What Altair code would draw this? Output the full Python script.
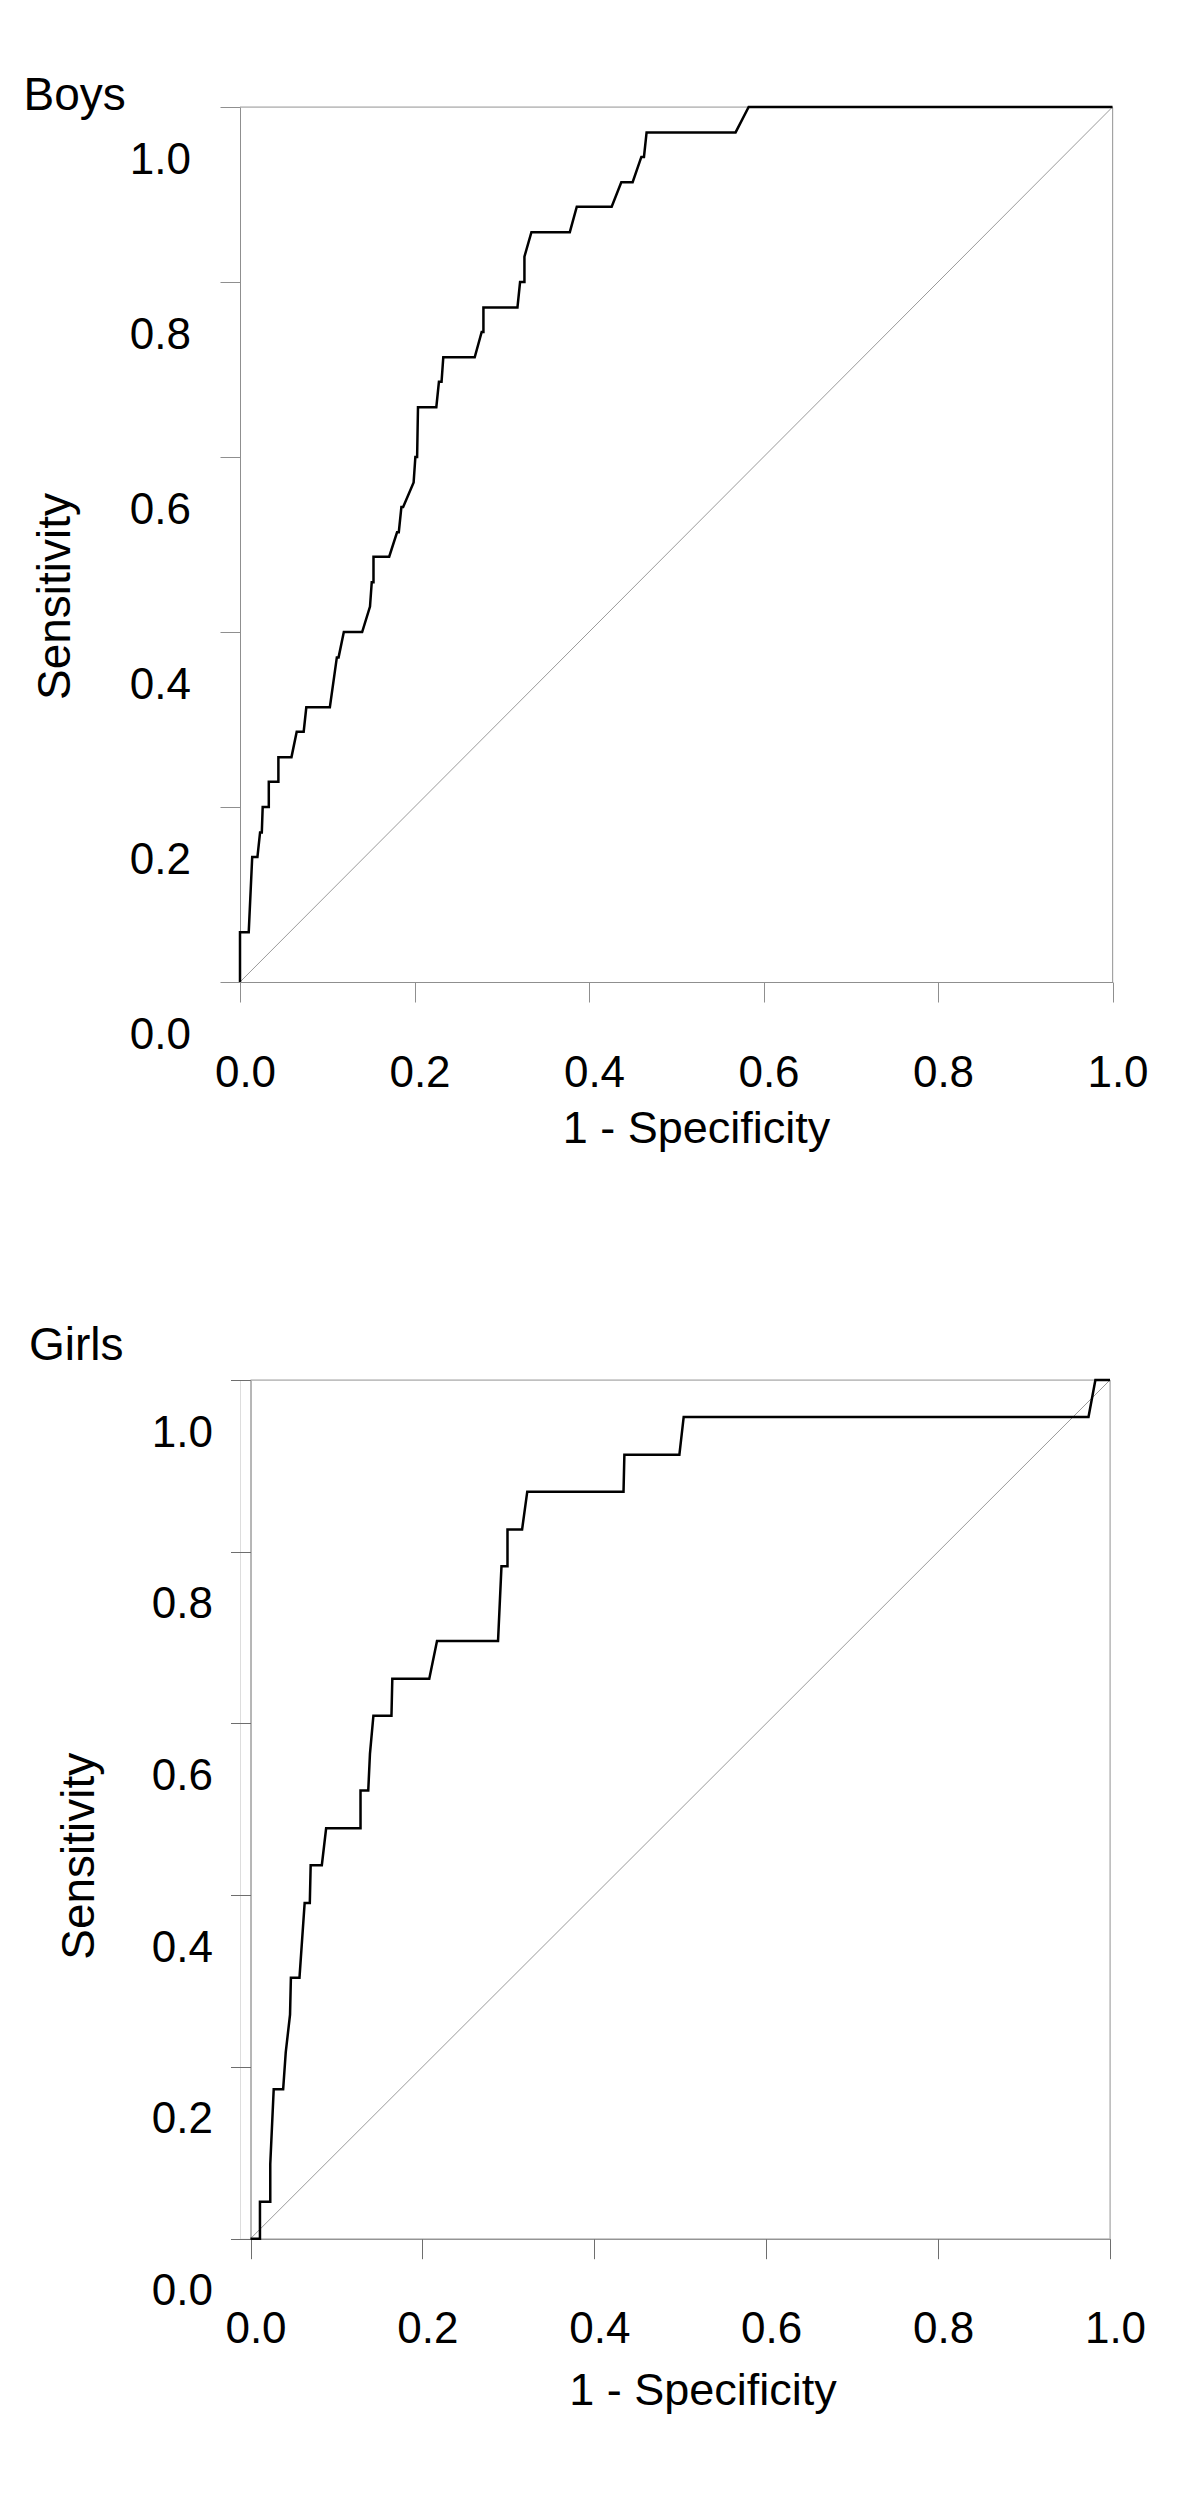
import altair as alt
import pandas as pd

# ---------------- data ----------------
boys_fpr = [0.000, 0.000, 0.010, 0.014, 0.020, 0.023, 0.025, 0.026, 0.033, 0.033,
            0.044, 0.044, 0.059, 0.065, 0.073, 0.076, 0.103, 0.111, 0.113, 0.119,
            0.140, 0.149, 0.151, 0.153, 0.153, 0.171, 0.180, 0.182, 0.185, 0.187,
            0.199, 0.201, 0.203, 0.204, 0.225, 0.228, 0.231, 0.233, 0.269, 0.277,
            0.279, 0.279, 0.318, 0.321, 0.326, 0.326, 0.334, 0.378, 0.386, 0.426,
            0.437, 0.450, 0.460, 0.463, 0.466, 0.568, 0.583, 1.000]
boys_sens = [0.000, 0.057, 0.057, 0.143, 0.143, 0.171, 0.171, 0.200, 0.200, 0.229,
             0.229, 0.257, 0.257, 0.286, 0.286, 0.314, 0.314, 0.371, 0.371, 0.400,
             0.400, 0.429, 0.457, 0.457, 0.486, 0.486, 0.514, 0.514, 0.543, 0.543,
             0.571, 0.600, 0.600, 0.657, 0.657, 0.686, 0.686, 0.714, 0.714, 0.743,
             0.743, 0.771, 0.771, 0.800, 0.800, 0.829, 0.857, 0.857, 0.886, 0.886,
             0.914, 0.914, 0.943, 0.943, 0.971, 0.971, 1.000, 1.000]

girls_fpr = [0.000, 0.011, 0.011, 0.023, 0.023, 0.027, 0.038, 0.041, 0.046, 0.047,
             0.057, 0.063, 0.069, 0.070, 0.083, 0.088, 0.128, 0.128, 0.137, 0.139,
             0.143, 0.164, 0.165, 0.208, 0.217, 0.288, 0.292, 0.299, 0.299, 0.316,
             0.322, 0.434, 0.435, 0.499, 0.504, 0.975, 0.983, 1.000]
girls_sens = [0.000, 0.000, 0.043, 0.043, 0.087, 0.174, 0.174, 0.217, 0.261, 0.304,
              0.304, 0.391, 0.391, 0.435, 0.435, 0.478, 0.478, 0.522, 0.522, 0.565,
              0.609, 0.609, 0.652, 0.652, 0.696, 0.696, 0.783, 0.783, 0.826, 0.826,
              0.870, 0.870, 0.913, 0.913, 0.957, 0.957, 1.000, 1.000]

chance_fpr = [0.0, 1.0]
chance_sens = [0.0, 1.0]

tick_values = [0.0, 0.2, 0.4, 0.6, 0.8, 1.0]
panel_names = ["Boys", "Girls"]
x_label = "1 - Specificity"
y_label = "Sensitivity"

FONT = "Liberation Sans"
BORDER = "#a3a3a3"
DIAG = "#9a9a9a"


def make_panel(name, fpr, sens, width, height, x_range, y_axis_offset, axis_color,
               y_title_x, y_title_y, y_label_pad, x_title_x, x_title_y,
               x_label_pad, title_dx, title_offset):
    curve = pd.DataFrame({"fpr": fpr, "sens": sens, "idx": list(range(len(fpr)))})
    chance = pd.DataFrame({"fpr": chance_fpr, "sens": chance_sens})
    frame = pd.DataFrame({"fpr": [0.0, 1.0], "fpr2": [1.0, 1.0],
                          "sens": [1.0, 0.0], "sens2": [1.0, 1.0]})

    xscale = alt.Scale(domain=[0, 1], range=x_range, nice=False, zero=False)
    yscale = alt.Scale(domain=[0, 1], nice=False, zero=False)

    xaxis = alt.Axis(values=tick_values, format=".1f", title=x_label, grid=False,
                     domainColor=axis_color, domainWidth=1, tickColor=axis_color,
                     tickWidth=1, tickSize=20, labelFont=FONT, labelFontSize=44,
                     labelColor="black", labelPadding=x_label_pad, labelOffset=5,
                     labelFlush=False, labelOverlap=False, titleFont=FONT,
                     titleFontSize=45, titleFontWeight="normal", titleColor="black",
                     titleX=x_title_x, titleY=x_title_y, titleAlign="center",
                     titleBaseline="alphabetic")
    yaxis = alt.Axis(values=tick_values, format=".1f", title=y_label, grid=False,
                     offset=y_axis_offset, domainColor=axis_color, domainWidth=1,
                     tickColor=axis_color, tickWidth=1, tickSize=20, labelFont=FONT,
                     labelFontSize=44, labelColor="black", labelPadding=y_label_pad,
                     labelOffset=53, labelFlush=False, labelOverlap=False,
                     titleFont=FONT, titleFontSize=46, titleFontWeight="normal",
                     titleColor="black", titleAngle=270, titleX=y_title_x,
                     titleY=y_title_y, titleAlign="center", titleBaseline="bottom")

    diag = alt.Chart(chance).mark_line(color=DIAG, strokeWidth=1).encode(
        x=alt.X("fpr:Q", scale=xscale, axis=xaxis, title=x_label),
        y=alt.Y("sens:Q", scale=yscale, axis=yaxis, title=y_label),
    )
    border = alt.Chart(frame).mark_rule(color=BORDER, strokeWidth=1).encode(
        x=alt.X("fpr:Q", scale=xscale, axis=xaxis, title=x_label),
        x2="fpr2:Q",
        y=alt.Y("sens:Q", scale=yscale, axis=yaxis, title=y_label),
        y2="sens2:Q",
    )
    roc = alt.Chart(curve).mark_line(color="black", strokeWidth=2.5,
                                      strokeJoin="miter").encode(
        x=alt.X("fpr:Q", scale=xscale, axis=xaxis, title=x_label),
        y=alt.Y("sens:Q", scale=yscale, axis=yaxis, title=y_label),
        order=alt.Order("idx:Q"),
    )
    return alt.layer(diag, border, roc).properties(
        width=width, height=height,
        title=alt.TitleParams(text=name, anchor="start", frame="group", dx=title_dx,
                              offset=title_offset, baseline="alphabetic", font=FONT,
                              fontSize=46, fontWeight="normal", color="black"),
    )


boys = make_panel(panel_names[0], boys_fpr, boys_sens, 872.5, 875, [0, 872.5], 0,
                  "#8f8f8f",
                  y_title_x=-161, y_title_y=489, y_label_pad=29.5,
                  x_title_x=456, x_title_y=160, x_label_pad=49,
                  title_dx=-216.5, title_offset=-54)
girls = make_panel(panel_names[1], girls_fpr, girls_sens, 870, 858.7, [10.5, 870], -10.5,
                   "#6e6e6e",
                   y_title_x=-146.7, y_title_y=475.7, y_label_pad=18,
                   x_title_x=462.5, x_title_y=166, x_label_pad=49,
                   title_dx=-211, title_offset=-31)

chart = alt.vconcat(boys, girls, spacing=170).properties(
    padding={"left": 15, "top": 64, "right": 10, "bottom": 10}
).configure_view(stroke=None).configure(background="white")

chart.save("out.html", embed_options={"renderer": "svg", "actions": False})
